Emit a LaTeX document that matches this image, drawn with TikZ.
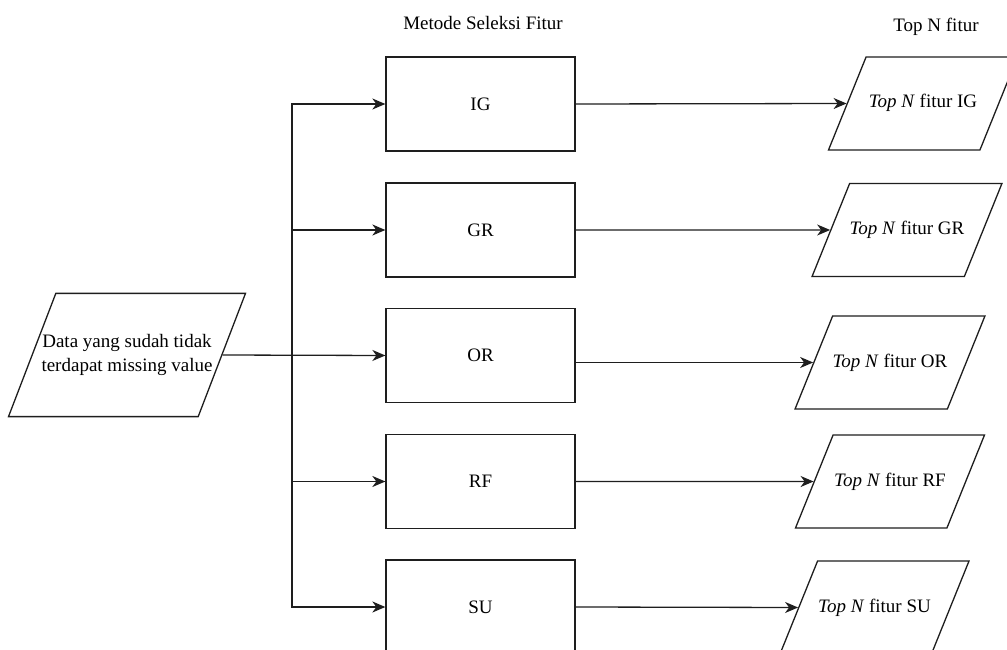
\documentclass[tikz,border=0pt]{standalone}
\usepackage{fontspec}
\setmainfont{Liberation Serif}
\usepackage{xcolor}
\definecolor{darkline}{RGB}{30, 30, 30}
\usepackage{tikz}
\usetikzlibrary{arrows.meta, positioning, shapes.geometric}

\tikzset{
    metodebox/.style={draw=darkline, line width=1.3pt, minimum width=189pt, minimum height=94pt,
        inner sep=0pt, font=\fontsize{19}{24}\selectfont},
    databox/.style={draw=darkline, line width=1.3pt, trapezium, trapezium stretches body=true,
        trapezium left angle=68, trapezium right angle=112,
        minimum width=189pt, inner xsep=0pt, inner ysep=38pt, text height=13pt, text depth=4pt,
        font=\fontsize{19}{24}\selectfont},
    judul/.style={font=\fontsize{19}{24}\selectfont},
    panah/.style={-{Stealth[length=13pt, width=11pt, inset=4pt]}, line width=1.3pt, darkline},
}

\begin{document}
\begin{tikzpicture}[x=1pt, y=-1pt]
    \clip (0, 0) rectangle (1007, 650);
    \fill[white] (0, 0) rectangle (1007, 650);

    % judul kolom
    \node[judul] (jmetode) at (483, 23) {Metode Seleksi Fitur};
    \node[judul] (jtop) at (936, 27) {Top N fitur};

    % data masukan
    \node[databox, trapezium left angle=69, trapezium right angle=111, text height=, text depth=,
        minimum width=237pt, inner xsep=-20pt, inner ysep=41pt, align=center] (input) at (127, 355)
        {Data yang sudah tidak\\terdapat missing value};

    % metode seleksi fitur
    \node[metodebox] (ig) at (480.5, 104) {IG};
    \node[metodebox] (gr) at (480.5, 230) {GR};
    \node[metodebox] (or) at (480.5, 355.5) {OR};
    \node[metodebox] (rf) at (480.5, 481.5) {RF};
    \node[metodebox] (su) at (480.5, 607) {SU};

    % hasil top N
    \node[databox] (topig) at (923, 103.5) {\textit{Top N} fitur IG};
    \node[databox] (topgr) at (907, 230) {\textit{Top N} fitur GR};
    \node[databox] (topor) at (890, 362.5) {\textit{Top N} fitur OR};
    \node[databox] (toprf) at (890, 481.5) {\textit{Top N} fitur RF};
    \node[databox] (topsu) at (874.5, 607.5) {\textit{Top N} fitur SU};

    \coordinate (cabang) at (292, 355.5);

    \draw[panah] (input.east) -- (or.west);
    \draw[panah] (cabang) |- (ig.west);
    \draw[panah] (cabang) |- (gr.west);
    \draw[panah] (cabang) |- (rf.west);
    \draw[panah] (cabang) |- (su.west);

    \draw[panah] (ig.east) -- (topig.west);
    \draw[panah] (gr.east) -- (topgr.west);
    \draw[panah] (or.east |- topor.west) -- (topor.west);
    \draw[panah] (rf.east) -- (toprf.west);
    \draw[panah] (su.east) -- (topsu.west);
\end{tikzpicture}
\end{document}
